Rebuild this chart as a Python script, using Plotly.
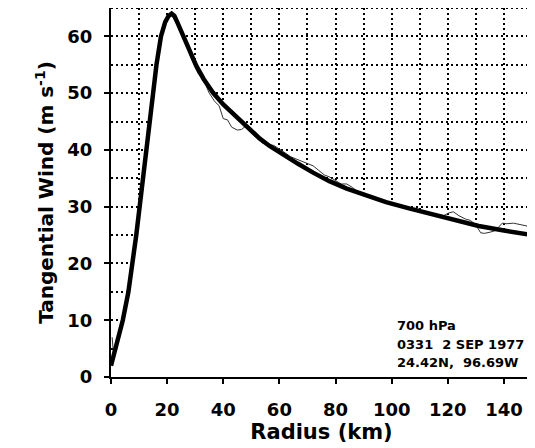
import plotly.graph_objects as go

# fitted (smooth) profile
fit_r = [0, 1.0, 2.6, 4.2, 6.2, 7.7, 9.0, 10.2, 11.5, 12.7, 13.9, 15.0, 16.2, 17.8, 19.3,
         20.5, 21.6, 22.6, 23.8, 25.7, 28.0, 30.4, 33.0, 36.3, 40.0, 42.3, 46.0, 49.4,
         53.0, 56.5, 61.0, 66.5, 72.0, 77.8, 84.0, 90.8, 98.0, 106.2, 112, 118, 124,
         131, 140, 150]
fit_v = [2.0, 3.8, 6.5, 10, 15, 20, 25, 30, 35, 40, 45, 50, 55, 60, 62.5,
         63.6, 64.0, 63.6, 62.3, 60, 57.2, 54.8, 52.5, 50.1, 48.0, 46.9, 45.1, 43.6,
         42.0, 40.7, 39.2, 37.6, 36.0, 34.5, 33.2, 32.0, 30.8, 29.7, 29.0, 28.2, 27.4,
         26.6, 25.8, 25.0]

# observed profile
obs_r = [0.4, 1.0, 2.6, 4.2, 6.2, 7.7, 9.0, 10.2, 11.5, 12.7, 13.9, 15.0, 16.2, 17.8, 19.3,
         21.6, 23.8, 25.7, 28.7, 31, 33, 35, 37, 38.5, 40, 41.5, 43, 45, 46.5, 48, 50,
         52, 54, 56, 58, 60, 62, 64, 66, 68, 70, 72, 74, 76, 78, 80, 82, 84, 86, 88, 90,
         93, 96, 100, 103, 106, 110, 113, 116, 118, 120.4, 122, 124, 126.4, 128, 130,
         131.7, 133, 135, 137, 139.4, 141, 143.4, 146, 148.2, 150]
obs_v = [7.0, 3.5, 6.8, 10.2, 15.2, 20, 25, 30, 35, 40, 45, 50, 55, 60, 62.5,
         63.7, 62, 59.8, 56, 53.5, 52.3, 50, 48.5, 47.8, 45.5, 45.3, 44, 43.5, 43.6, 44.2, 43,
         42, 41.2, 40.9, 40.8, 40.2, 39.5, 38.8, 38.4, 38.0, 37.6, 37.2, 36.4, 35.6, 35.2, 34.6, 34.0, 34.0, 33.4, 32.6, 32.2,
         31.5, 31.0, 30.4, 30.1, 29.6, 29.2, 28.8, 28.6, 28.3, 28.9, 29.1, 28.4, 27.8, 27.6, 26.8,
         25.4, 25.3, 25.5, 25.8, 27.1, 27.0, 27.1, 26.9, 26.6, 25.0]

info_lines = ['700 hPa', '0331\u00a0\u00a02 SEP 1977', '24.42N,\u00a0\u00a096.69W']

FONT = 'DejaVu Sans, Verdana, sans-serif'
DOT = '2px,3px'

fig = go.Figure()

# white fill under the fit hides the grid below the curve
fig.add_trace(go.Scatter(x=fit_r, y=fit_v, mode='lines', fill='tozeroy',
                         fillcolor='white', line=dict(width=0), hoverinfo='skip'))
fig.add_trace(go.Scatter(x=obs_r, y=obs_v, mode='lines',
                         line=dict(color='#333333', width=1)))
fig.add_trace(go.Scatter(x=fit_r, y=fit_v, mode='lines',
                         line=dict(color='black', width=4.5)))

for i, txt in enumerate(info_lines):
    fig.add_annotation(x=101.3, y=9.1 - i * 3.3, text='<b>' + txt + '</b>', showarrow=False,
                       xanchor='left', yanchor='middle',
                       font=dict(family=FONT, size=13, color='black'))

# dotted frame on the right and top
fig.add_shape(type='line', x0=150, x1=150, y0=0, y1=65, layer='above',
              line=dict(color='black', width=2, dash=DOT))
fig.add_shape(type='line', x0=0, x1=150, y0=65, y1=65, layer='above',
              line=dict(color='black', width=2, dash=DOT))

# page body has an 8px margin, so the figure is sized to sit inside the window
fig.update_layout(
    width=527, height=440,
    margin=dict(l=103, r=3, t=0, b=71),
    paper_bgcolor='white', plot_bgcolor='white',
    showlegend=False,
    font=dict(family=FONT, color='black'),
)

fig.update_xaxes(
    range=[0, 150], dtick=20, tick0=0, automargin=False,
    showline=True, linecolor='black', linewidth=2,
    ticks='outside', ticklen=5, tickwidth=2, tickcolor='black',
    tickfont=dict(size=18, weight='bold'), ticklabelstandoff=10,
    showgrid=True, gridcolor='black', gridwidth=2, griddash=DOT,
    minor=dict(dtick=10, showgrid=True, gridcolor='black', gridwidth=2, griddash=DOT),
    zeroline=False,
    title=dict(text='<b>Radius (km)</b>', font=dict(size=21), standoff=4),
)
fig.update_yaxes(
    range=[0, 65], dtick=10, tick0=0, automargin=False,
    showline=True, linecolor='black', linewidth=2,
    ticks='outside', ticklen=5, tickwidth=2, tickcolor='black',
    tickfont=dict(size=18, weight='bold'), ticklabelstandoff=8,
    showgrid=True, gridcolor='black', gridwidth=2, griddash=DOT,
    minor=dict(dtick=5, showgrid=True, gridcolor='black', gridwidth=2, griddash=DOT),
    zeroline=False,
    title=dict(text='<b>Tangential Wind (m s<sup>-1</sup>)</b>', font=dict(size=20),
               standoff=8),
)

fig.write_html('out.html')
